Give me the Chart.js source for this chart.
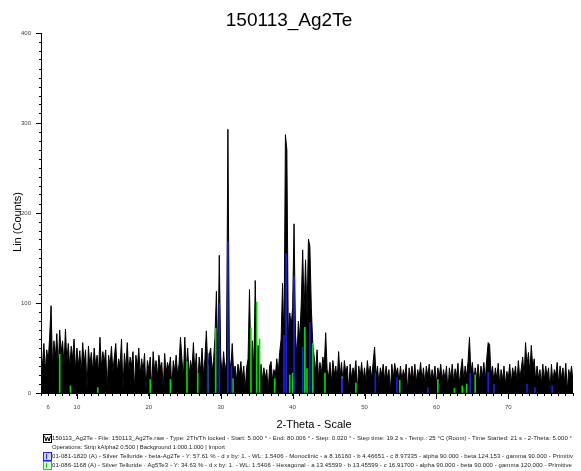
<!DOCTYPE html>
<html>
<head>
<meta charset="utf-8">
<script src="https://cdn.jsdelivr.net/npm/chart.js@4.4.1/dist/chart.umd.min.js"></script>
<style>
  html, body { margin: 0; padding: 0; background: #fff; }
</style>
</head>
<body>
<canvas id="xrd" width="581" height="471"></canvas>
<script>
// scan: 2-theta start / step used when reading the pattern off the picture
const SCAN_START = 5.0;
const SCAN_STEP = 0.2;

// Lin (Counts), read every 0.2 deg from 5.0 to 80.0 (one block = one degree)
const counts = [
  42, 30, 55, 25, 48,   35, 62, 97, 30, 58,   40, 66, 28, 70, 45,   58, 30, 71, 35, 55,
  28, 52, 38, 60, 25,   50, 30, 47, 22, 56,   32, 48, 4, 52, 30,    45, 24, 50, 30, 42,
  22, 62, 28, 46, 34,   48, 5, 42, 30, 52,    24, 40, 55, 22, 38,   30, 60, 3, 44, 26,
  56, 22, 40, 30, 46,   4, 42, 28, 50, 20,    38, 24, 44, 3, 36,    26, 40, 4, 46, 24,
  36, 18, 42, 28, 34,   3, 44, 22, 34, 26,    40, 5, 36, 24, 42,    20, 32, 62, 38, 16,
  62, 24, 50, 18, 36,   26, 56, 22, 44, 4,    40, 24, 50, 20, 38,   69, 28, 42, 50, 24,
  36, 62, 113, 30, 153, 40, 20, 46, 24, 35,   293, 40, 26, 55, 22,  30, 14, 32, 20, 35,
  16, 30, 3, 28, 38,    115, 30, 58, 24, 125, 40, 53, 20, 32, 14,   28, 16, 26, 2, 30,
  35, 14, 26, 20, 38,   22, 45, 60, 122, 55,  287, 270, 60, 89, 75, 95, 188, 65, 40, 80,
  60, 100, 159, 90, 148, 85, 171, 163, 95, 55, 40, 24, 48, 16, 34, 22, 40, 30, 67, 26,
  18, 34, 12, 36, 20,   30, 14, 46, 18, 34,   12, 36, 22, 30, 3,    32, 16, 28, 20, 36,
  2, 30, 18, 34, 14,    28, 12, 36, 20, 30,   16, 34, 51, 18, 30,   10, 28, 20, 32, 14,
  30, 16, 26, 2, 32,    16, 33, 22, 28, 12,   30, 14, 26, 18, 32,   2, 28, 16, 30, 14,
  32, 12, 26, 18, 34,   14, 28, 10, 30, 18,   32, 14, 26, 16, 30,   10, 28, 18, 32, 14,
  26, 14, 30, 2, 28,    16, 32, 12, 27, 18,   33, 10, 26, 38, 14,   30, 18, 35, 62, 22,
  34, 14, 28, 16, 32,   12, 30, 18, 34, 14,   38, 56, 54, 20, 30,   12, 28, 16, 33, 10,
  26, 14, 30, 10, 24,   16, 32, 10, 28, 18,   30, 12, 36, 16, 27,   40, 18, 56, 30, 45,
  22, 53, 28, 38, 14,   30, 16, 26, 10, 32,   14, 30, 18, 28, 2,    32, 12, 26, 20, 34,
  10, 30, 16, 28, 12,   33, 2, 26, 18, 30,    12, 28, 16, 32, 10,   20
];

// 01-081-1820 (A) beta-Ag2Te sticks
const blueTheta = [28.2, 29.8, 31.0, 31.5, 38.8, 39.1, 40.2, 41.4, 42.4, 46.9, 51.5, 54.5, 58.8, 64.7, 67.2, 68.0, 72.6, 73.7, 76.1];
const blueCounts = [44, 100, 168, 30, 64, 155, 130, 51, 78, 16, 22, 17, 6, 22, 23, 10, 10, 6, 8];

// 01-086-1168 (A) Ag5Te3 sticks
const greenTheta = [7.6, 9.1, 12.9, 20.2, 23.0, 25.3, 26.8, 28.2, 29.3, 31.7, 34.2, 35.0, 35.4, 37.5, 39.6, 40.0, 41.7, 42.0, 42.8, 44.5, 46.9, 48.8, 54.9, 60.2, 62.5, 63.6, 64.2, 65.4];
const greenCounts = [43, 8, 6, 15, 15, 35, 22, 31, 72, 16, 72, 101, 60, 16, 20, 22, 73, 27, 55, 22, 18, 11, 14, 15, 5, 8, 10, 20];

const xLabels = [6, 10, 20, 30, 40, 50, 60, 70];
const xMajor = [10, 20, 30, 40, 50, 60, 70];
const yLabels = [0, 100, 200, 300, 400];

const legendRows = [
  "150113_Ag2Te - File: 150113_Ag2Te.raw - Type: 2Th/Th locked - Start: 5.000 \u00b0 - End: 80.006 \u00b0 - Step: 0.020 \u00b0 - Step time: 19.2 s - Temp.: 25 \u00b0C (Room) - Time Started: 21 s - 2-Theta: 5.000 \u00b0",
  "Operations: Strip kAlpha2 0.500 | Background 1.000,1.000 | Import",
  "01-081-1820 (A) - Silver Telluride - beta-Ag2Te - Y: 57.61 % - d x by: 1. - WL: 1.5406 - Monoclinic - a 8.16160 - b 4.46651 - c 8.97335 - alpha 90.000 - beta 124.153 - gamma 90.000 - Primitiv",
  "01-086-1168 (A) - Silver Telluride - Ag5Te3 - Y: 34.63 % - d x by: 1. - WL: 1.5406 - Hexagonal - a 13.45599 - b 13.45599 - c 16.91700 - alpha 90.000 - beta 90.000 - gamma 120.000 - Primitive"
];

const FONT = "Arial, 'Liberation Sans', sans-serif";
Chart.defaults.font.family = FONT;

const scan = counts.map((c, i) => ({ x: +(SCAN_START + i * SCAN_STEP).toFixed(2), y: c }));
const blueSticks = blueTheta.map((t, i) => ({ x: t, y: blueCounts[i] }));
const greenSticks = greenTheta.map((t, i) => ({ x: t, y: greenCounts[i] }));

// longer ticks at the labelled values + axis titles where EVA puts them
const axisExtras = {
  id: 'axisExtras',
  afterDraw(chart) {
    const { ctx, chartArea, scales } = chart;
    ctx.save();
    ctx.strokeStyle = '#000';
    ctx.lineWidth = 1;
    ctx.beginPath();
    xMajor.forEach(v => {
      const px = Math.round(scales.x.getPixelForValue(v)) + 0.5;
      ctx.moveTo(px, chartArea.bottom);
      ctx.lineTo(px, chartArea.bottom + 6);
    });
    yLabels.forEach(v => {
      const py = Math.round(scales.y.getPixelForValue(v)) + 0.5;
      ctx.moveTo(chartArea.left - 5, py);
      ctx.lineTo(chartArea.left, py);
    });
    ctx.stroke();

    ctx.fillStyle = '#000';
    ctx.font = '11px ' + FONT;
    ctx.textAlign = 'center';
    ctx.textBaseline = 'middle';
    ctx.fillText('2-Theta - Scale', 314, 425);
    ctx.translate(18, 222);
    ctx.rotate(-Math.PI / 2);
    ctx.fillText('Lin (Counts)', 0, 0);
    ctx.restore();
  }
};

// the EVA style legend block under the axis title
const evaLegend = {
  id: 'evaLegend',
  afterDraw(chart) {
    const ctx = chart.ctx;
    const rows = [
      { y: 438.5, x: 52, w: 520, icon: { stroke: '#000', fill: '#fff', y: 434 } },
      { y: 447.5, x: 52, w: 173 },
      { y: 456, x: 52, w: 521, icon: { stroke: '#2020ff', fill: '#d4d4ff', y: 452 } },
      { y: 465, x: 52, w: 520, icon: { stroke: '#10d010', fill: '#d4ffd4', y: 461 } }
    ];
    ctx.save();
    ctx.font = '6px ' + FONT;
    ctx.fillStyle = '#222';
    ctx.textBaseline = 'middle';
    rows.forEach((r, i) => {
      const text = legendRows[i];
      ctx.letterSpacing = '0px';
      const natural = ctx.measureText(text).width;
      if (natural < r.w) {
        ctx.letterSpacing = ((r.w - natural) / text.length).toFixed(3) + 'px';
      }
      ctx.fillText(text, r.x, r.y, r.w);
      if (r.icon) {
        ctx.fillStyle = r.icon.fill;
        ctx.fillRect(43, r.icon.y, 8, 8);
        ctx.strokeStyle = r.icon.stroke;
        ctx.lineWidth = 1;
        ctx.strokeRect(43.5, r.icon.y + 0.5, 8, 8);
        ctx.beginPath();
        if (i === 0) {
          ctx.moveTo(44.5, r.icon.y + 2);
          ctx.lineTo(46, r.icon.y + 7);
          ctx.lineTo(47.5, r.icon.y + 3);
          ctx.lineTo(49, r.icon.y + 7);
          ctx.lineTo(50.5, r.icon.y + 2);
        } else {
          ctx.moveTo(46.5, r.icon.y + 2);
          ctx.lineTo(46.5, r.icon.y + 7);
        }
        ctx.stroke();
        ctx.fillStyle = '#222';
      }
    });
    ctx.restore();
  }
};

new Chart(document.getElementById('xrd'), {
  type: 'line',
  data: {
    datasets: [
      {
        type: 'bar',
        label: '01-081-1820 (A)',
        data: blueSticks,
        backgroundColor: '#1c1ce6',
        barThickness: 1,
        grouped: false,
        order: 1
      },
      {
        type: 'bar',
        label: '01-086-1168 (A)',
        data: greenSticks,
        backgroundColor: '#00dc00',
        barThickness: 1,
        grouped: false,
        order: 2
      },
      {
        label: '150113_Ag2Te',
        data: scan,
        borderColor: '#000',
        backgroundColor: '#000',
        borderWidth: 1,
        pointRadius: 0,
        tension: 0,
        fill: 'origin',
        order: 3
      }
    ]
  },
  options: {
    responsive: false,
    animation: false,
    layout: { padding: { left: 0, right: 3, top: 0, bottom: 40 } },
    plugins: {
      legend: { display: false },
      tooltip: { enabled: false },
      title: {
        display: true,
        text: '150113_Ag2Te',
        color: '#000',
        font: { size: 19, weight: 'normal' },
        padding: { top: 9, bottom: 1.2 }
      }
    },
    scales: {
      x: {
        type: 'linear',
        min: 5,
        max: 79,
        offset: false,
        grid: { drawOnChartArea: false, offset: false, tickLength: 3, color: '#000' },
        border: { color: '#000' },
        ticks: {
          stepSize: 1,
          autoSkip: false,
          maxRotation: 0,
          padding: 8,
          color: '#444',
          font: { size: 6 },
          callback: v => xLabels.includes(v) ? String(v) : ''
        },
        afterFit(s) { s.height = 38; }
      },
      y: {
        min: 0,
        max: 400,
        grid: { drawOnChartArea: false, tickLength: 2, color: '#000' },
        border: { color: '#000' },
        ticks: {
          stepSize: 10,
          autoSkip: false,
          padding: 8,
          color: '#444',
          font: { size: 6 },
          callback: v => yLabels.includes(v) ? String(v) : ''
        },
        afterFit(s) { s.width = 41; }
      }
    }
  },
  plugins: [axisExtras, evaLegend]
});
</script>
</body>
</html>
